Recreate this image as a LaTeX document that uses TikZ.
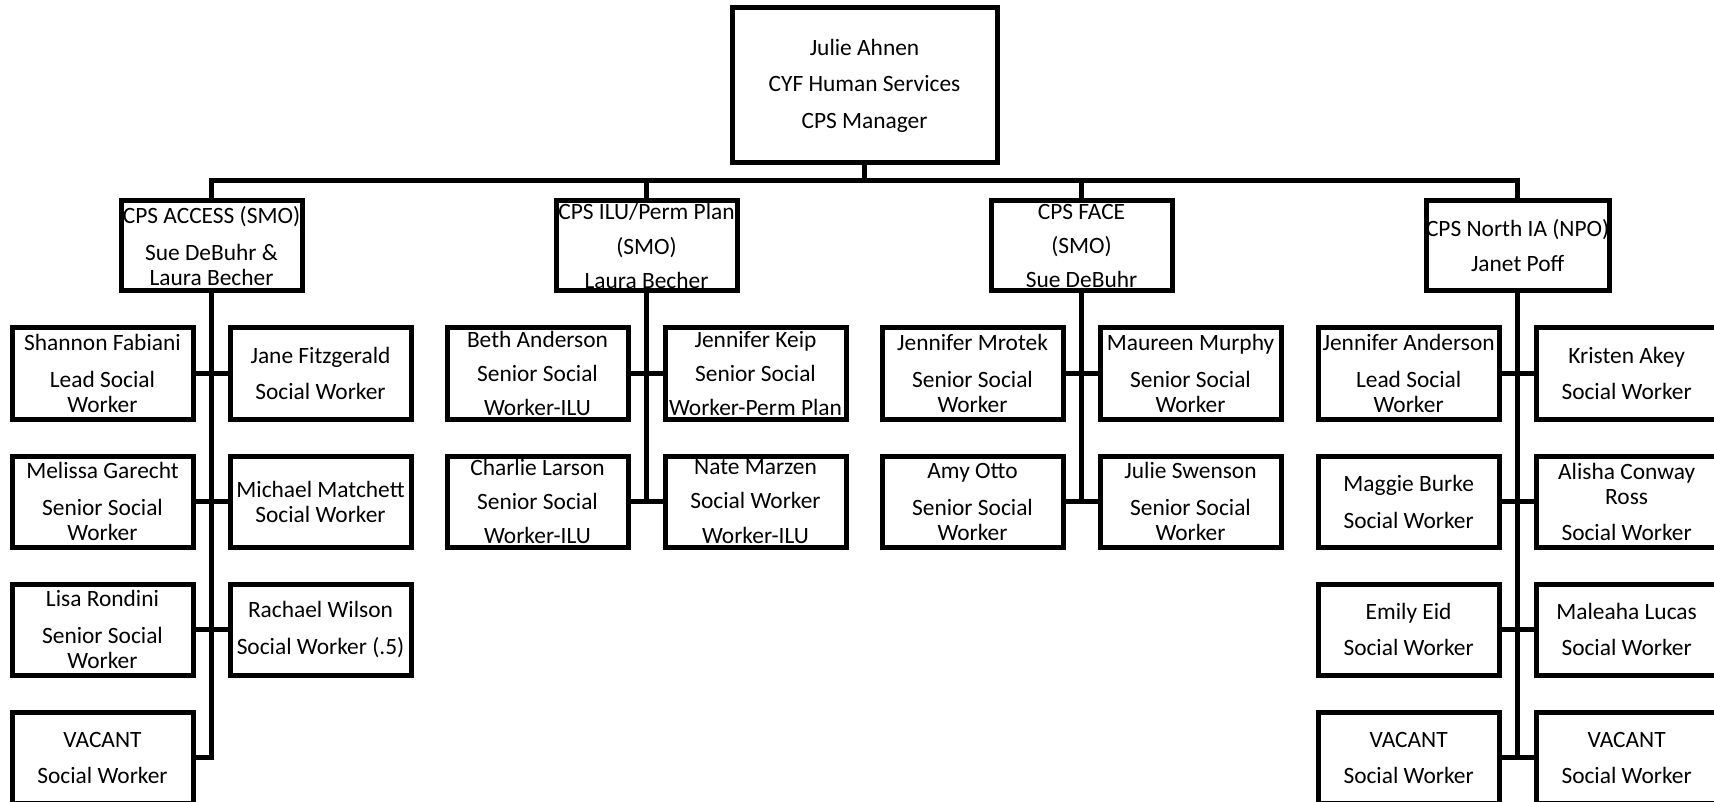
\documentclass[tikz,border=0pt]{standalone}
\usepackage{fontspec}
\setmainfont{Carlito}
\usetikzlibrary{positioning}
\usetikzlibrary{calc}

\tikzset{
	staff/.style={
		draw,
		fill=white,
		line width=2.5pt,
		outer sep=0pt,
		inner sep=0pt,
		minimum width=90.5pt,
		minimum height=45.5pt,
		align=center,
		font=\fontsize{11.7}{12.5}\selectfont
	},
	unit/.style={staff, minimum height=45pt},
	link/.style={line width=2.5pt}
}

\begin{document}
\begin{tikzpicture}[x=0.5pt, y=0.5pt]

\useasboundingbox (0,0) rectangle (1714,-802);

\node[
	staff,
	minimum width=132.5pt,
	minimum height=77.5pt
] (manager) at (864.5,-85.5) {Julie Ahnen\\[5.8pt]CYF Human Services\\[5.8pt]CPS Manager};

\coordinate (bus) at (0,-181);

% --- units

\node[unit] (access) at (211.5,-246) {CPS ACCESS (SMO)\\[6pt]Sue DeBuhr \&\\Laura Becher};

\node[
	unit,
	right=127pt of access
] (ilu) {CPS ILU/Perm Plan\\[4.7pt](SMO)\\[4.7pt]Laura Becher};

\node[
	unit,
	right=127pt of ilu
] (face) {CPS FACE\\[4.7pt](SMO)\\[4.7pt]Sue DeBuhr};

\node[
	unit,
	right=127pt of face
] (north) {CPS North IA (NPO)\\[5pt]Janet Poff};

% --- access staff

\node[staff, below=18.5pt of access, xshift=-54.5pt] (a1) {Shannon Fabiani\\[6pt]Lead Social\\Worker};
\node[staff, right=18.5pt of a1] (a2) {Jane Fitzgerald\\[5.5pt]Social Worker};
\node[staff, below=18.5pt of a1] (a3) {Melissa Garecht\\[6pt]Senior Social\\Worker};
\node[staff, right=18.5pt of a3] (a4) {Michael Matchett\\Social Worker};
\node[staff, below=18.5pt of a3] (a5) {Lisa Rondini\\[6pt]Senior Social\\Worker};
\node[staff, right=18.5pt of a5] (a6) {Rachael Wilson\\[6pt]Social Worker (.5)};
\node[staff, below=18.5pt of a5] (a7) {VACANT\\[5.5pt]Social Worker};

% --- ilu staff

\node[staff, below=18.5pt of ilu, xshift=-54.5pt] (i1) {Beth Anderson\\[4.7pt]Senior Social\\[4.7pt]Worker-ILU};
\node[staff, right=18.5pt of i1] (i2) {Jennifer Keip\\[4.7pt]Senior Social\\[4.7pt]Worker-Perm Plan};
\node[staff, below=18.5pt of i1] (i3) {Charlie Larson\\[4.7pt]Senior Social\\[4.7pt]Worker-ILU};
\node[staff, right=18.5pt of i3] (i4) {Nate Marzen\\[4.7pt]Social Worker\\[4.7pt]Worker-ILU};

% --- face staff

\node[staff, below=18.5pt of face, xshift=-54.5pt] (f1) {Jennifer Mrotek\\[6pt]Senior Social\\Worker};
\node[staff, right=18.5pt of f1] (f2) {Maureen Murphy\\[6pt]Senior Social\\Worker};
\node[staff, below=18.5pt of f1] (f3) {Amy Otto\\[6pt]Senior Social\\Worker};
\node[staff, right=18.5pt of f3] (f4) {Julie Swenson\\[6pt]Senior Social\\Worker};

% --- north staff

\node[staff, below=18.5pt of north, xshift=-54.5pt] (n1) {Jennifer Anderson\\[6pt]Lead Social\\Worker};
\node[staff, right=18.5pt of n1] (n2) {Kristen Akey\\[5.5pt]Social Worker};
\node[staff, below=18.5pt of n1] (n3) {Maggie Burke\\[6pt]Social Worker};
\node[staff, right=18.5pt of n3] (n4) {Alisha Conway\\Ross\\[5.5pt]Social Worker};
\node[staff, below=18.5pt of n3] (n5) {Emily Eid\\[5.5pt]Social Worker};
\node[staff, right=18.5pt of n5] (n6) {Maleaha Lucas\\[5.5pt]Social Worker};
\node[staff, below=18.5pt of n5] (n7) {VACANT\\[5.5pt]Social Worker};
\node[staff, right=18.5pt of n7] (n8) {VACANT\\[5.5pt]Social Worker};

% --- connectors

\draw[link] (manager.south) -- (manager.south |- bus);
\draw[link] (access.north) |- (north.north |- bus) -- (north.north);
\draw[link] (ilu.north) -- (ilu.north |- bus);
\draw[link] (face.north) -- (face.north |- bus);

\draw[link] (access.south) |- (a7.east);
\draw[link] (a1.east) -- (a2.west);
\draw[link] (a3.east) -- (a4.west);
\draw[link] (a5.east) -- (a6.west);

\draw[link] (ilu.south) -- (ilu.south |- i3.east);
\draw[link] (i1.east) -- (i2.west);
\draw[link] (i3.east) -- (i4.west);

\draw[link] (face.south) -- (face.south |- f3.east);
\draw[link] (f1.east) -- (f2.west);
\draw[link] (f3.east) -- (f4.west);

\draw[link] (north.south) -- (north.south |- n7.east);
\draw[link] (n1.east) -- (n2.west);
\draw[link] (n3.east) -- (n4.west);
\draw[link] (n5.east) -- (n6.west);
\draw[link] (n7.east) -- (n8.west);

\end{tikzpicture}
\end{document}
